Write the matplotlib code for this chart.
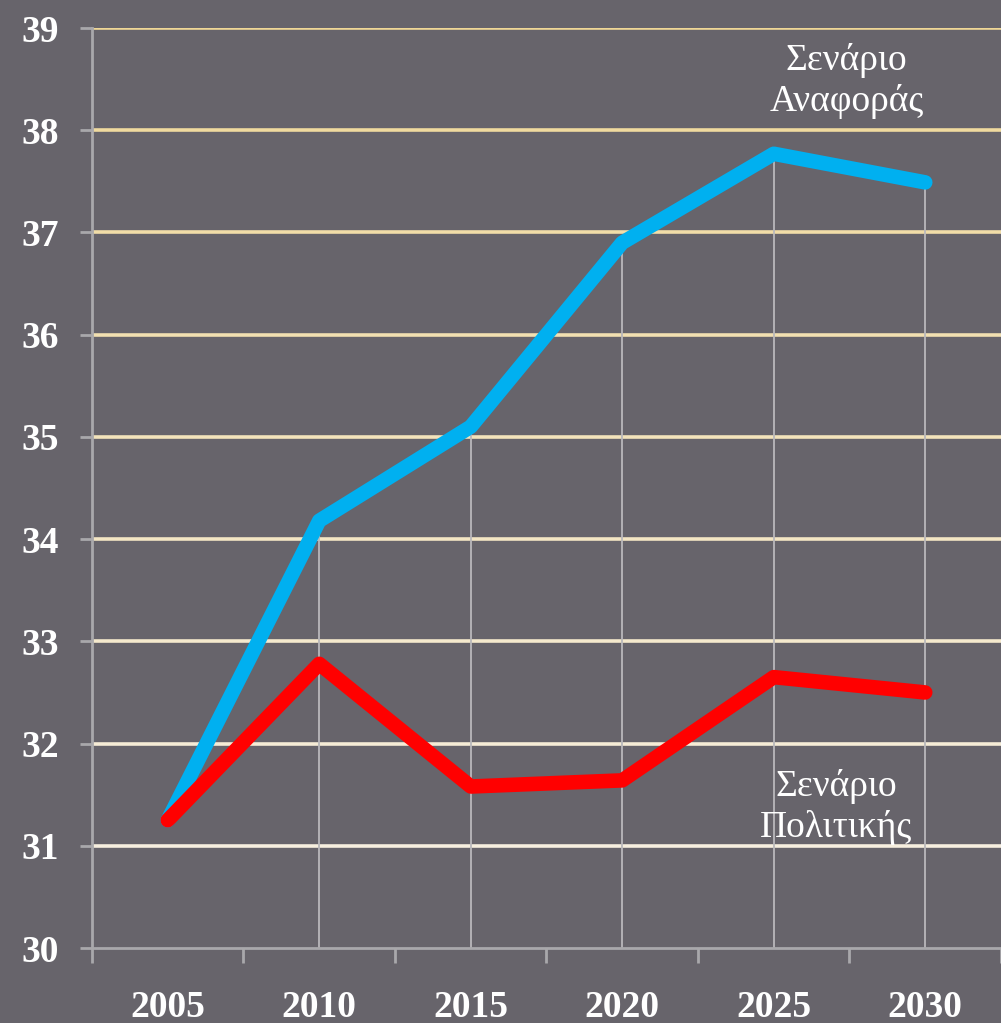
import numpy as np
import matplotlib
matplotlib.use("Agg")
import matplotlib.pyplot as plt
from matplotlib.colors import to_rgb

# data
years = ["2005", "2010", "2015", "2020", "2025", "2030"]
reference = [31.25, 34.18, 35.10, 36.90, 37.77, 37.49]
policy = [31.25, 32.78, 31.58, 31.64, 32.65, 32.50]
yticks = list(range(30, 40))

BG = "#67646b"
AXIS = "#a9a8ab"

fig = plt.figure(figsize=(10.01, 10.23), dpi=100, facecolor=BG)
ax = fig.add_axes([0.0919, 0.0733, 0.9081, 0.8993])
ax.set_facecolor(BG)

x = np.arange(len(years))

# gridlines: yellowish at the top fading to cream at the bottom
top_c = np.array(to_rgb("#efd796"))
bot_c = np.array(to_rgb("#f7efdf"))
for v in yticks[1:]:
	t = (v - 31) / 8
	ax.axhline(v, color=bot_c + (top_c - bot_c) * t, lw=2.6, zorder=1)

# drop lines from the higher series to the axis (none at the first point)
tops = np.maximum(reference, policy)
ax.vlines(x[1:], 30, tops[1:], color="#b9b8bb", lw=1.3, zorder=2)

ax.plot(x, reference, color="#00b0f0", lw=10.5, solid_capstyle="round", solid_joinstyle="round", zorder=3)
ax.plot(x, policy, color="#ff0000", lw=10.5, solid_capstyle="round", solid_joinstyle="round", zorder=4)

ax.set_xlim(-0.5, 5.445)
ax.set_ylim(30, 39)
ax.set_yticks(yticks)
ax.set_xticks(x)
ax.set_xticks(np.arange(-0.5, 6, 1), minor=True)
ax.set_xticklabels(years)

serif = ["Liberation Serif", "DejaVu Serif"]
for lab in ax.get_yticklabels() + ax.get_xticklabels():
	lab.set_family(serif)
	lab.set_fontweight("bold")
	lab.set_fontsize(27)
	lab.set_color("white")

ax.tick_params(axis="y", which="major", length=9, width=2, color=AXIS, pad=15)
ax.tick_params(axis="x", which="major", length=0, pad=30)
ax.tick_params(axis="x", which="minor", length=11, width=2, color=AXIS)

for s in ["top", "right"]:
	ax.spines[s].set_visible(False)
for s in ["left", "bottom"]:
	ax.spines[s].set_color(AXIS)
	ax.spines[s].set_linewidth(2)

ax.text(4.48, 38.48, "Σενάριο\nΑναφοράς", ha="center", va="center", fontsize=27,
	color="white", family=serif, linespacing=1.2)
ax.text(4.41, 31.38, "Σενάριο\nΠολιτικής", ha="center", va="center", fontsize=27,
	color="white", family=serif, linespacing=1.2)

fig.savefig("out.png", dpi=100, facecolor=BG)
